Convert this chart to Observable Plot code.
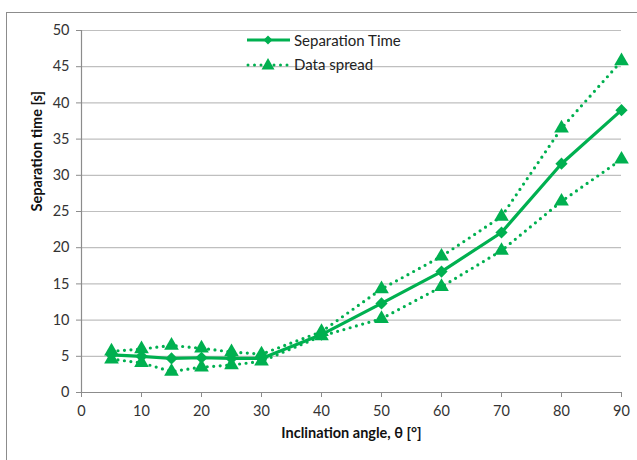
<!DOCTYPE html>
<html>
<head>
<meta charset="utf-8">
<script src="https://cdn.jsdelivr.net/npm/d3@7"></script>
<script src="https://cdn.jsdelivr.net/npm/@observablehq/plot@0.6"></script>
<style>
  html, body { margin: 0; padding: 0; background: #fff; }
  #wrap { position: relative; width: 637px; height: 460px; overflow: hidden; font-family: Lato, "Open Sans", sans-serif; }
  #border { position: absolute; left: 6px; top: 12px; width: 700px; height: 500px; border-top: 1.5px solid #8c8c8c; border-left: 1.5px solid #8c8c8c; }
  #legend { position: absolute; left: 246px; top: 28px; font-size: 15px; color: #222; }
  #legend div { display: flex; align-items: center; height: 24px; }
  #legend svg { margin-right: 3px; }
</style>
</head>
<body>
<div id="wrap">
  <div id="border"></div>
  <div id="chart"></div>
  <div id="legend"></div>
</div>
<script>
const angles      = [5, 10, 15, 20, 25, 30, 40, 50, 60, 70, 80, 90];
const sepTime     = [5.2, 5.0, 4.7, 4.8, 4.7, 4.7, 8.0, 12.3, 16.7, 22.1, 31.6, 39.0];
const spreadUpper = [5.7, 6.0, 6.5, 6.1, 5.6, 5.3, 8.4, 14.3, 18.8, 24.3, 36.5, 45.8];
const spreadLower = [4.6, 4.1, 2.9, 3.5, 3.8, 4.3, 7.8, 10.2, 14.6, 19.6, 26.4, 32.2];
const xTicks = [0, 10, 20, 30, 40, 50, 60, 70, 80, 90];
const yTicks = [0, 5, 10, 15, 20, 25, 30, 35, 40, 45, 50];
const seriesNames = ["Separation Time", "Data spread"];
const green = "#00b050";

const main = angles.map((a, i) => ({angle: a, value: sepTime[i]}));
const upper = angles.map((a, i) => ({angle: a, value: spreadUpper[i]}));
const lower = angles.map((a, i) => ({angle: a, value: spreadLower[i]}));

const chart = Plot.plot({
  width: 637,
  height: 460,
  marginLeft: 81,
  marginRight: 16,
  marginTop: 30,
  marginBottom: 68,
  style: {fontFamily: "Lato, 'Open Sans', sans-serif", fontSize: "14.5px", color: "#333", background: "transparent"},
  x: {domain: [0, 90], ticks: xTicks, label: null},
  y: {domain: [0, 50], ticks: yTicks, label: null},
  marks: [
    Plot.gridY(yTicks, {stroke: "#bfbfbf", strokeOpacity: 1, strokeWidth: 1.2}),
    Plot.ruleY([0], {stroke: "#8c8c8c", strokeWidth: 1.2}),
    Plot.ruleX([0], {stroke: "#8c8c8c", strokeWidth: 1.2}),
    Plot.axisY({ticks: yTicks, tickSize: 5, tickPadding: 7, stroke: "#8c8c8c", fill: "#333", fontSize: 14.5, label: null}),
    Plot.axisX({ticks: xTicks, tickSize: 5, tickPadding: 8, stroke: "#8c8c8c", fill: "#333", fontSize: 14.5, label: null}),
    Plot.text(["Separation time [s]"], {frameAnchor: "left", dx: -44, rotate: -90, fontWeight: "bold", fontSize: 14.5, fill: "#111"}),
    Plot.text(["Inclination angle, θ [°]"], {frameAnchor: "bottom", dy: 45, fontWeight: "bold", fontSize: 14.5, fill: "#111"}),
    Plot.line(upper, {x: "angle", y: "value", stroke: green, strokeWidth: 3.2, strokeDasharray: "0 6.5", strokeLinecap: "round"}),
    Plot.line(lower, {x: "angle", y: "value", stroke: green, strokeWidth: 3.2, strokeDasharray: "0 6.5", strokeLinecap: "round"}),
    Plot.line(main, {x: "angle", y: "value", stroke: green, strokeWidth: 3.2}),
    Plot.dot(upper, {x: "angle", y: "value", symbol: "triangle2", r: 7, fill: green}),
    Plot.dot(lower, {x: "angle", y: "value", symbol: "triangle2", r: 7, fill: green}),
    Plot.dot(main, {x: "angle", y: "value", symbol: "diamond2", r: 5.5, fill: green})
  ]
});
document.getElementById("chart").appendChild(chart);

const legend = document.getElementById("legend");
legend.innerHTML =
  `<div><svg width="45" height="14"><line x1="1" y1="7" x2="44" y2="7" stroke="${green}" stroke-width="3"/><path d="M22,2.5 L26.5,7 L22,11.5 L17.5,7 Z" fill="${green}"/></svg><span>${seriesNames[0]}</span></div>` +
  `<div><svg width="45" height="16"><line x1="2" y1="9" x2="44" y2="9" stroke="${green}" stroke-width="3" stroke-dasharray="0 6.5" stroke-linecap="round"/><path d="M22,2 L28.5,13.5 L15.5,13.5 Z" fill="${green}"/></svg><span>${seriesNames[1]}</span></div>`;
</script>
</body>
</html>
